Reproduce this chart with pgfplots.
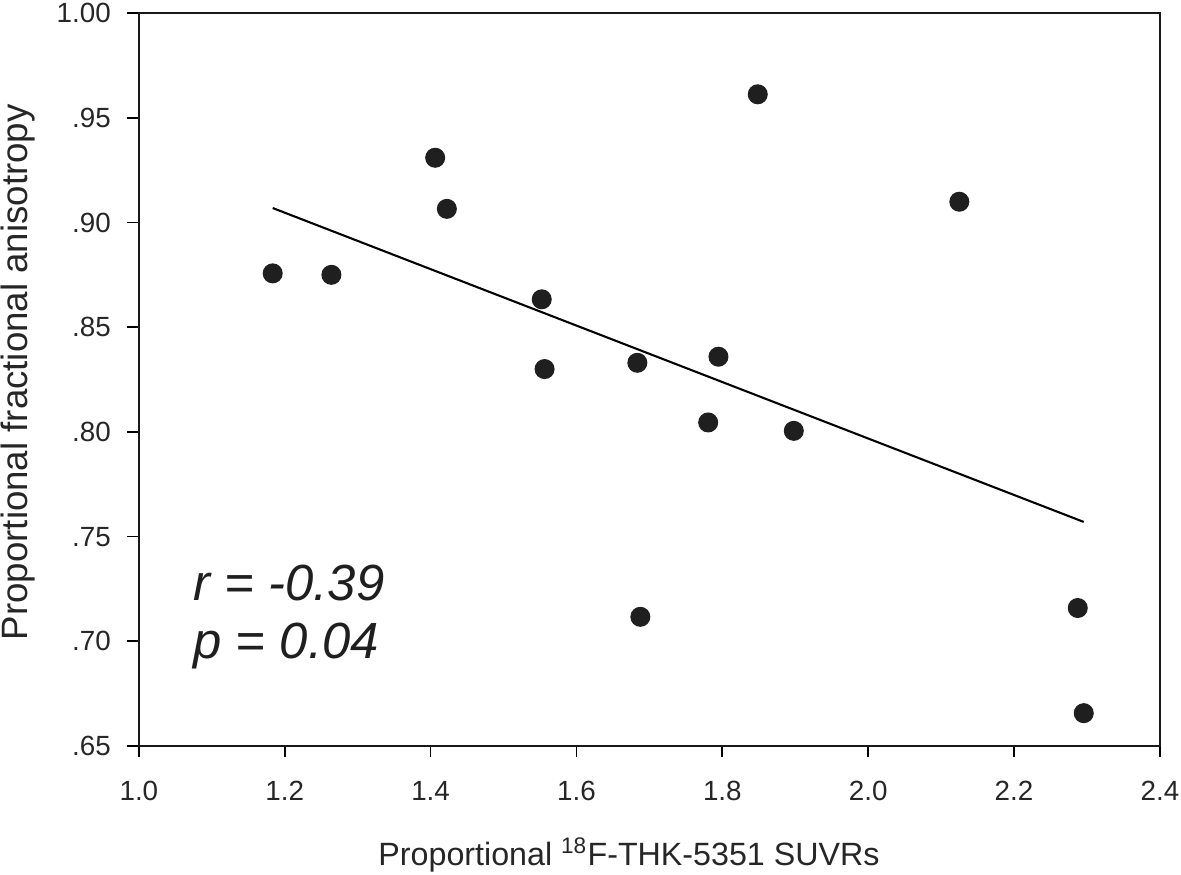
\documentclass[border=0pt]{standalone}
\usepackage{fontspec}
\setmainfont{Liberation Sans}
\usepackage{pgfplots}
\pgfplotsset{compat=1.18}

\begin{document}
\begin{tikzpicture}
% picture frame: 1181 x 875 px at 0.36pt/px, axis box starts at px (139,746)
\useasboundingbox (-50.0pt,-46.4pt) rectangle (375.2pt,268.6pt);
\begin{axis}[
  at={(0,0)}, anchor=south west,
  scale only axis, width=367.6pt, height=263.9pt,
  xmin=1.0, xmax=2.4, ymin=0.65, ymax=1.00,
  axis line style={line width=0.75pt, black!90},
  xtick={1.0,1.2,1.4,1.6,1.8,2.0,2.2,2.4},
  xticklabels={1.0,1.2,1.4,1.6,1.8,2.0,2.2,2.4},
  ytick={0.65,0.70,0.75,0.80,0.85,0.90,0.95,1.00},
  yticklabels={.65,.70,.75,.80,.85,.90,.95,1.00},
  xtick pos=bottom, ytick pos=left, tick align=outside,
  major tick length=4.1pt, major tick style={line width=0.6pt, black},
  tick label style={font=\fontsize{10}{12}\selectfont, text=black!85},
  xticklabel style={yshift=-5pt},
  yticklabel style={xshift=-2.5pt},
  xlabel={Proportional \textsuperscript{18}F-THK-5351 SUVRs},
  ylabel={Proportional fractional anisotropy},
  xlabel style={font=\fontsize{11.6}{14}\selectfont, text=black!85,
    at={(axis description cs:0.48,-0.149)}, anchor=center},
  ylabel style={font=\fontsize{13.2}{15}\selectfont, text=black!85,
    at={(axis description cs:-0.118,0.51)}, anchor=center},
  clip=false,
]
\addplot[only marks, mark=*, mark size=3.4pt, mark options={fill=black!88, draw=black!88}]
coordinates {
(1.1835,0.8757) (1.264,0.875) (1.4063,0.9309) (1.4223,0.9065)
(1.5524,0.8633) (1.5563,0.830) (1.6835,0.833) (1.6876,0.7117)
(1.7947,0.8359) (1.7806,0.8045) (1.898,0.8005) (1.8486,0.9612)
(2.125,0.9099) (2.2874,0.7159) (2.2956,0.6657)
};
\addplot[black, line width=0.75pt] coordinates {(1.1835,0.9069) (2.2956,0.757)};
\node[anchor=base west, font=\fontsize{18.3}{22}\selectfont\itshape, text=black!88]
  at (axis description cs:0.044,0.199) {r = -0.39};
\node[anchor=base west, font=\fontsize{18.3}{22}\selectfont\itshape, text=black!88]
  at (axis description cs:0.044,0.120) {p = 0.04};
\end{axis}
\end{tikzpicture}
\end{document}
